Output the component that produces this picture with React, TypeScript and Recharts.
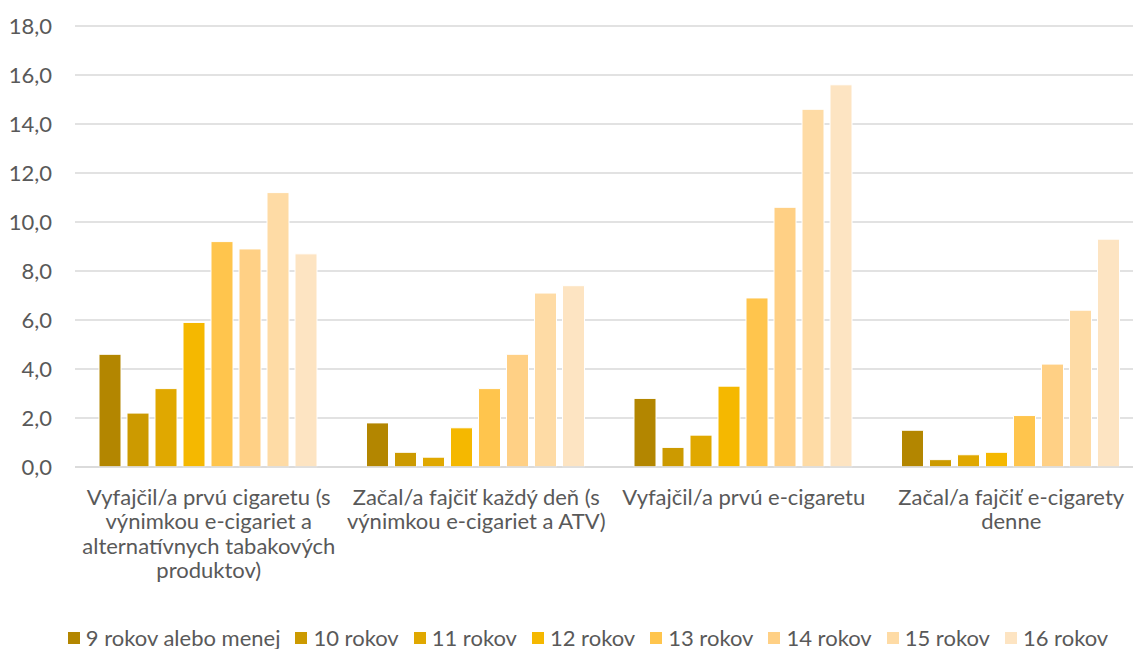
import React from 'react';
import { BarChart, Bar, XAxis, YAxis, CartesianGrid, Legend } from 'recharts';

const categories = [
  'Vyfajčil/a prvú cigaretu (s výnimkou e-cigariet a alternatívnych tabakových produktov)',
  'Začal/a fajčiť každý deň (s výnimkou e-cigariet a ATV)',
  'Vyfajčil/a prvú e-cigaretu',
  'Začal/a fajčiť e-cigarety denne',
];

const seriesNames = [
  '9 rokov alebo menej',
  '10 rokov',
  '11 rokov',
  '12 rokov',
  '13 rokov',
  '14 rokov',
  '15 rokov',
  '16 rokov',
];

const age9 = [4.6, 1.8, 2.8, 1.5];
const age10 = [2.2, 0.6, 0.8, 0.3];
const age11 = [3.2, 0.4, 1.3, 0.5];
const age12 = [5.9, 1.6, 3.3, 0.6];
const age13 = [9.2, 3.2, 6.9, 2.1];
const age14 = [8.9, 4.6, 10.6, 4.2];
const age15 = [11.2, 7.1, 14.6, 6.4];
const age16 = [8.7, 7.4, 15.6, 9.3];

const yTicks = [0, 2, 4, 6, 8, 10, 12, 14, 16, 18];

const colors = ['#b38600', '#cc9a00', '#e0a800', '#f5b800', '#ffc54d', '#ffd085', '#fedba5', '#fde4c2'];

const allSeries = [age9, age10, age11, age12, age13, age14, age15, age16];

const data = categories.map((name, i) => {
  const row: Record<string, string | number> = { name };
  allSeries.forEach((s, k) => {
    row['s' + k] = s[i];
  });
  return row;
});

const FONT = 'Lato, "Liberation Sans", sans-serif';
const GREY = '#595959';
const FS = 22;

// word wrap using canvas text metrics
let ctx: CanvasRenderingContext2D | null = null;
function wrap(text: string, maxW: number, font: string) {
  if (!ctx) ctx = document.createElement('canvas').getContext('2d');
  const words = text.split(' ');
  const lines: string[] = [];
  let cur = '';
  words.forEach(w => {
    const next = cur ? cur + ' ' + w : w;
    ctx!.font = font;
    if (cur && ctx!.measureText(next).width > maxW) {
      lines.push(cur);
      cur = w;
    } else {
      cur = next;
    }
  });
  if (cur) lines.push(cur);
  return lines;
}

const CategoryTick = (props: any) => {
  const { x, y, payload } = props;
  const lines = wrap(payload.value, 264, FS + 'px Lato');
  return (
    <text x={x} y={y + 30} textAnchor="middle" fill={GREY} fontSize={FS} fontFamily={FONT}>
      {lines.map((l, i) => (
        <tspan key={i} x={x} dy={i === 0 ? 0 : 24.3}>
          {l}
        </tspan>
      ))}
    </text>
  );
};

const LegendBox = () => (
  <div
    style={{
      display: 'flex',
      justifyContent: 'center',
      alignItems: 'center',
      fontFamily: FONT,
      fontSize: FS,
      color: GREY,
      whiteSpace: 'nowrap',
    }}
  >
    {seriesNames.map((n, i) => (
      <span key={n} style={{ display: 'inline-flex', alignItems: 'center', marginRight: i < seriesNames.length - 1 ? 15 : 0 }}>
        <span style={{ width: 12, height: 12, background: colors[i], display: 'inline-block', marginRight: 6 }} />
        {n}
      </span>
    ))}
  </div>
);

export default function App() {
  return (
    <div style={{ position: 'absolute', left: 0, top: 0, width: 1133, height: 649, overflow: 'hidden', background: '#fff' }}>
      <BarChart
        width={1150}
        height={649}
        data={data}
        margin={{ top: 26, right: 5, left: 0, bottom: 0 }}
        barCategoryGap={24}
        barGap={6}
      >
        <CartesianGrid vertical={false} stroke="#d9d9d9" strokeWidth={1.3} />
        <XAxis
          dataKey="name"
          axisLine={{ stroke: '#d9d9d9', strokeWidth: 1.3 }}
          tickLine={false}
          interval={0}
          height={142}
          tick={<CategoryTick />}
        />
        <YAxis
          width={75}
          domain={[0, 18]}
          ticks={yTicks}
          axisLine={false}
          tickLine={false}
          tickMargin={17}
          tickFormatter={(v: number) => v.toFixed(1).replace('.', ',')}
          tick={{ fill: GREY, fontSize: FS, fontFamily: FONT }}
        />
        <Legend
          verticalAlign="bottom"
          height={40}
          content={<LegendBox />}
          wrapperStyle={{ left: 0, width: 1176, bottom: -15 }}
        />
        {seriesNames.map((n, i) => (
          <Bar
            key={n}
            dataKey={'s' + i}
            name={n}
            fill={colors[i]}
            stroke="#ffffff"
            strokeWidth={1}
            isAnimationActive={false}
          />
        ))}
      </BarChart>
    </div>
  );
}
